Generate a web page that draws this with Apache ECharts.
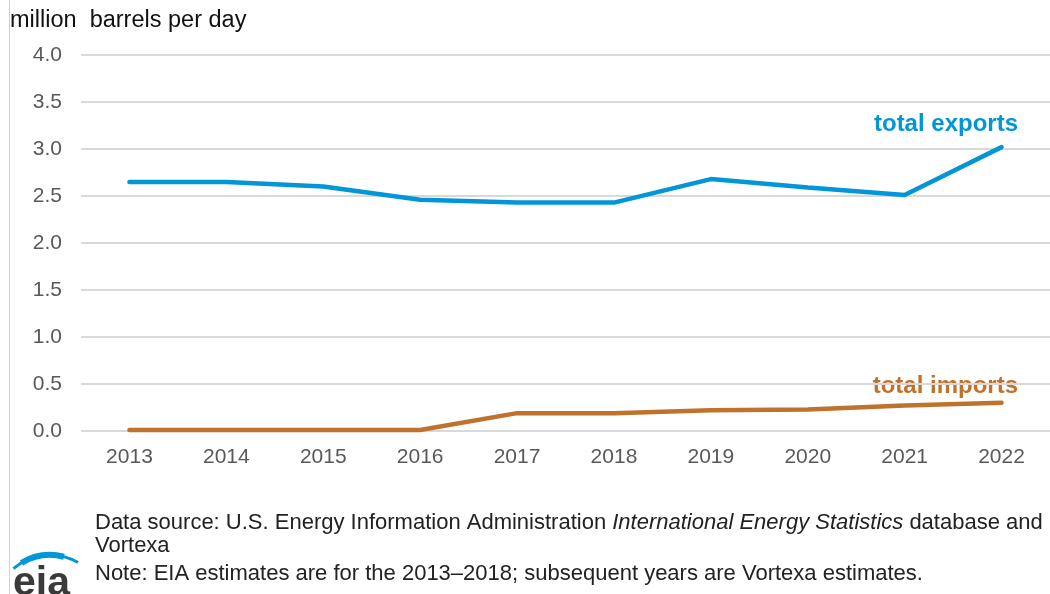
<!DOCTYPE html>
<html lang="en">
<head>
<meta charset="utf-8">
<title>Exports and imports</title>
<script src="https://cdn.jsdelivr.net/npm/echarts@6/dist/echarts.min.js"></script>
<style>
  html, body { margin: 0; padding: 0; background: #fff; }
  #chart { width: 1050px; height: 594px; }
</style>
</head>
<body>
<div id="chart"></div>
<script>
var years = ['2013', '2014', '2015', '2016', '2017', '2018', '2019', '2020', '2021', '2022'];
var exportsData = [2.65, 2.65, 2.60, 2.46, 2.43, 2.43, 2.68, 2.59, 2.51, 3.02];
var importsData = [0.01, 0.01, 0.01, 0.01, 0.19, 0.19, 0.22, 0.23, 0.27, 0.30];

var font = 'Arial, "Liberation Sans", sans-serif';
var blue = '#0096d7', brown = '#c0722d';
var chart = echarts.init(document.getElementById('chart'));
chart.setOption({
  animation: false,
  textStyle: { fontFamily: font },
  grid: { left: 81, top: 55, width: 979, height: 376 },
  xAxis: {
    type: 'category',
    data: years,
    axisLine: { show: false },
    axisTick: { show: false },
    axisLabel: { color: '#595959', fontSize: 21, margin: 16 }
  },
  yAxis: {
    type: 'value',
    min: 0, max: 4, interval: 0.5,
    axisLabel: { color: '#595959', fontSize: 21, margin: 19, formatter: function (v) { return v.toFixed(1); } },
    splitLine: { lineStyle: { color: '#d9d9d9', width: 2 } }
  },
  series: [
    {
      name: 'total exports', type: 'line', data: exportsData,
      symbol: 'none', lineStyle: { color: blue, width: 4.5, cap: 'round' },
      itemStyle: { color: blue }
    },
    {
      name: 'total imports', type: 'line', data: importsData,
      symbol: 'none', lineStyle: { color: brown, width: 4.5, cap: 'round' },
      itemStyle: { color: brown }
    }
  ],
  graphic: [
    { type: 'line', shape: { x1: 9.5, y1: 0, x2: 9.5, y2: 594 }, style: { stroke: '#d0d0d0', lineWidth: 1 } },
    { type: 'text', left: 10, top: 9, style: { text: 'million  barrels per day', fill: '#111', font: '23.5px ' + font } },
    { type: 'text', right: 32, top: 112, style: { text: 'total exports', fill: blue, font: 'bold 24px ' + font } },
    { type: 'text', right: 32, top: 374, style: { text: 'total imports', fill: brown, font: 'bold 24px ' + font } },
    {
      type: 'text', left: 95, top: 512,
      style: {
        text: 'Data source: U.S. Energy Information Administration {i|International Energy Statistics} database and',
        fill: '#222', font: '22px ' + font,
        rich: { i: { fontStyle: 'italic', fontSize: 22, fontFamily: font, fill: '#222' } }
      }
    },
    { type: 'text', left: 95, top: 535, style: { text: 'Vortexa', fill: '#222', font: '22px ' + font } },
    { type: 'text', left: 95, top: 563, style: { text: 'Note: EIA estimates are for the 2013\u20132018; subsequent years are Vortexa estimates.', fill: '#222', font: '22px ' + font } },
    // eia logo
    { type: 'text', left: 13, top: 563, style: { text: 'eia', fill: '#3a3a3a', font: 'bold 41px ' + font } },
    { type: 'arc', shape: { cx: 50, cy: 611, r: 56, startAngle: Math.PI * 1.274, endAngle: Math.PI * 1.667 }, style: { stroke: blue, lineWidth: 3, fill: null } },
    { type: 'arc', shape: { cx: 50, cy: 611, r: 56, startAngle: Math.PI * 1.33, endAngle: Math.PI * 1.58 }, style: { stroke: blue, lineWidth: 6, fill: null } }
  ]
});
</script>
</body>
</html>
